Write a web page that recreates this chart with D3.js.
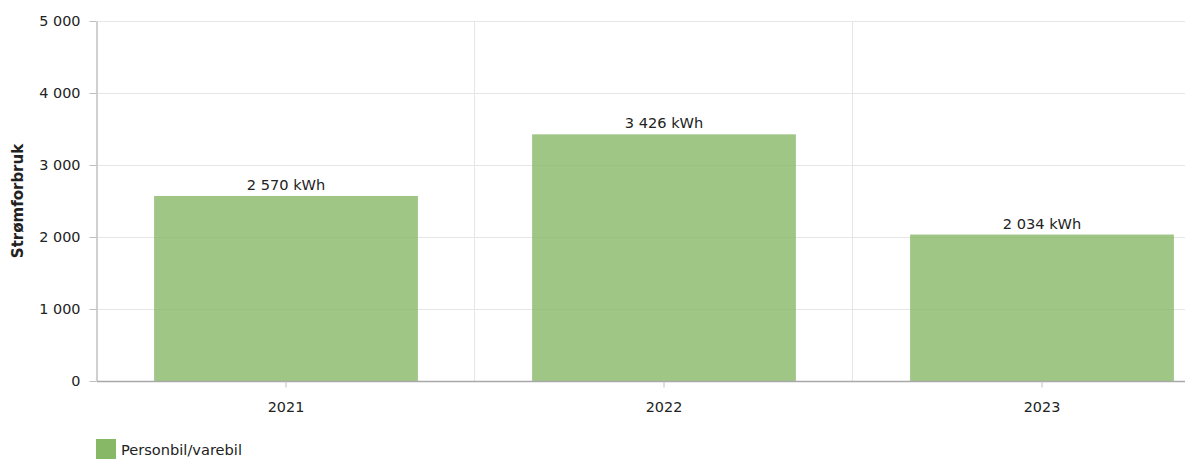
<!DOCTYPE html>
<html>
<head>
<meta charset="utf-8">
<script src="https://cdn.jsdelivr.net/npm/d3@7"></script>
<style>
  body { margin: 0; overflow: hidden; background: #fff; }
  text { font-family: "DejaVu Sans", Verdana, sans-serif; fill: #222; }
</style>
</head>
<body>
<script>
var years = ["2021", "2022", "2023"];
var consumption = [2570, 3426, 2034];
var yTicks = [0, 1000, 2000, 3000, 4000, 5000];
var seriesName = "Personbil/varebil";
var axisTitle = "Strømforbruk";

// chart is a bit wider than the window, right edge gets cut like in the original
var width = 1240, height = 459;
var margin = {top: 21, right: 9, bottom: 78, left: 97};

var svg = d3.select("body").append("svg")
	.attr("width", width)
	.attr("height", height);

var fmt = function(v) {
	return d3.format(",")(v).replace(/,/g, " ");
};

var x = d3.scaleBand()
	.domain(years)
	.range([margin.left, width - margin.right])
	.paddingInner(0.302)
	.paddingOuter(0.151);

var band = d3.scaleBand()
	.domain(years)
	.range([margin.left, width - margin.right]);

var y = d3.scaleLinear()
	.domain([0, 5000])
	.range([height - margin.bottom, margin.top]);

// horizontal grid
svg.append("g")
	.selectAll("line")
	.data(yTicks)
	.join("line")
	.attr("x1", margin.left)
	.attr("x2", width)
	.attr("y1", function(d) { return Math.round(y(d)) + 0.5; })
	.attr("y2", function(d) { return Math.round(y(d)) + 0.5; })
	.attr("stroke", "#e6e6e6");

// vertical separators between categories
svg.append("g")
	.selectAll("line")
	.data(years.slice(1))
	.join("line")
	.attr("x1", function(d) { return Math.round(band(d)) - 0.5; })
	.attr("x2", function(d) { return Math.round(band(d)) - 0.5; })
	.attr("y1", margin.top)
	.attr("y2", y(0))
	.attr("stroke", "#e6e6e6");

// bars
svg.append("g")
	.selectAll("rect")
	.data(consumption)
	.join("rect")
	.attr("x", function(d, i) { return x(years[i]); })
	.attr("width", x.bandwidth())
	.attr("y", function(d) { return y(d); })
	.attr("height", function(d) { return y(0) - y(d); })
	.attr("fill", "#87b866")
	.attr("fill-opacity", 0.8);

// value labels
svg.append("g")
	.selectAll("text")
	.data(consumption)
	.join("text")
	.attr("x", function(d, i) { return x(years[i]) + x.bandwidth() / 2; })
	.attr("y", function(d) { return y(d) - 6; })
	.attr("text-anchor", "middle")
	.style("font-size", "14.6px")
	.text(function(d) { return fmt(d) + " kWh"; });

// y axis
var yAxis = svg.append("g")
	.attr("transform", "translate(" + (margin.left - 0.5) + ",0)")
	.call(d3.axisLeft(y).tickValues(yTicks).tickFormat(fmt).tickSize(7).tickSizeOuter(0).tickPadding(9));
yAxis.select(".domain").attr("stroke", "#c0c0c0").attr("stroke-width", 1.5);
yAxis.selectAll(".tick line").attr("stroke", "#c0c0c0");
yAxis.selectAll("text").style("font-size", "14.4px").attr("fill", "#222").style("font-family", "DejaVu Sans");

// x axis
var xAxis = svg.append("g")
	.attr("transform", "translate(0," + (y(0) + 0.5) + ")")
	.call(d3.axisBottom(band).tickSize(6).tickSizeOuter(0).tickPadding(14));
xAxis.select(".domain").attr("stroke", "#a8a8a8").attr("stroke-width", 1.5)
	.attr("d", "M" + margin.left + ",0H" + width);
xAxis.selectAll(".tick line").attr("stroke", "#c0c0c0");
xAxis.selectAll("text").style("font-size", "14.4px").attr("fill", "#222").style("font-family", "DejaVu Sans");

// axis title
svg.append("text")
	.attr("transform", "translate(23," + (margin.top + (y(0) - margin.top) / 2) + ") rotate(-90)")
	.attr("text-anchor", "middle")
	.style("font-size", "15px")
	.style("font-weight", "bold")
	.text(axisTitle);

// legend
var legend = svg.append("g").attr("transform", "translate(96,439)");
legend.append("rect")
	.attr("width", 20)
	.attr("height", 20)
	.attr("fill", "#87b866");
legend.append("text")
	.attr("x", 25)
	.attr("y", 16)
	.style("font-size", "14.6px")
	.text(seriesName);
</script>
</body>
</html>
